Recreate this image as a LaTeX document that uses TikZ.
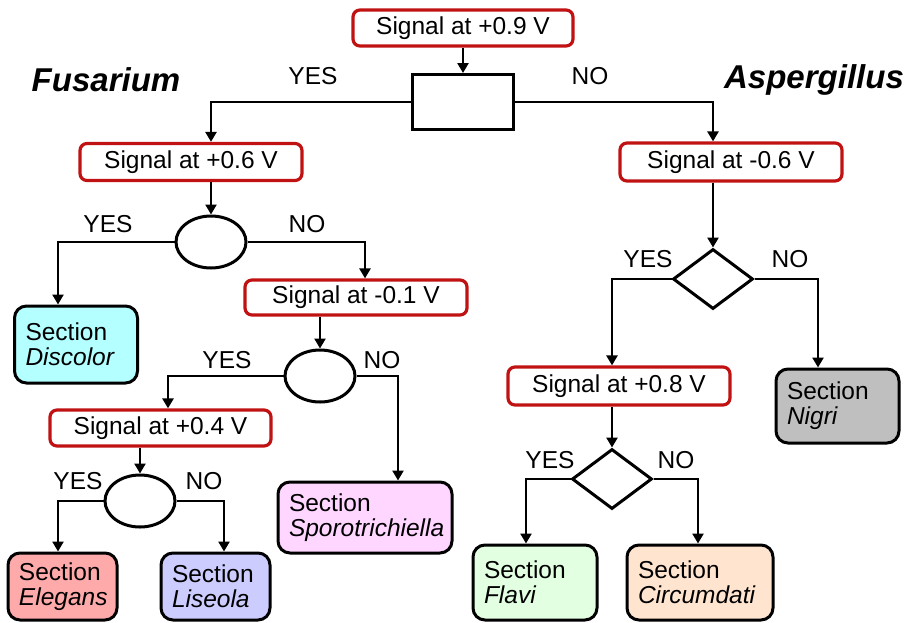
\documentclass[tikz,border=0pt]{standalone}
\usepackage{fontspec}
\setmainfont{Liberation Sans}
\usetikzlibrary{arrows.meta,shapes.geometric}
\definecolor{boxred}{RGB}{192,18,18}
\definecolor{cDis}{RGB}{180,255,255}
\definecolor{cEle}{RGB}{255,170,170}
\definecolor{cLis}{RGB}{204,204,255}
\definecolor{cSpo}{RGB}{255,214,255}
\definecolor{cNig}{RGB}{191,191,191}
\definecolor{cFla}{RGB}{226,255,226}
\definecolor{cCir}{RGB}{255,229,208}
\tikzset{
  txt/.style={font=\fontsize{24.5}{25}\selectfont},
  redbox/.style={txt, draw=boxred, line width=3.2pt, rounded corners=7pt, fill=white, inner sep=0pt},
  secbox/.style={txt, draw=black, line width=3pt, rounded corners=12pt, align=left, inner xsep=11pt, inner ysep=0pt},
  decision/.style={draw=black, line width=3pt, inner sep=0pt},
  oval/.style={decision, ellipse, minimum width=70pt, minimum height=52pt},
  rhomb/.style={decision, diamond, minimum width=80pt, minimum height=60pt},
  conn/.style={line width=2.8pt, -{Triangle[width=11pt,length=10pt]}},
  lbl/.style={txt, inner sep=0pt},
  genus/.style={font=\fontsize{33}{35}\selectfont\bfseries\itshape, inner sep=0pt}
}
\begin{document}
\begin{tikzpicture}[x=1pt,y=-1pt]
\useasboundingbox (0,0) rectangle (908,622);

% top
\node[redbox, minimum width=220pt, minimum height=36pt] (t0) at (463,28) {Signal at +0.9 V};
\node[decision, rectangle, minimum width=101pt, minimum height=55pt] (r0) at (463,102) {};
\node[genus] (fus) at (106,80) {Fusarium};
\node[genus] (asp) at (814,80) {Aspergillus};
\node[lbl] (ly0) at (313,76) {YES};
\node[lbl] (ln0) at (590,76) {NO};

% Fusarium branch
\node[redbox, minimum width=222pt, minimum height=37pt] (p06) at (191,162) {Signal at +0.6 V};
\node[oval] (e1) at (211,242) {};
\node[lbl] (ly1) at (108,224) {YES};
\node[lbl] (ln1) at (307,224) {NO};
\node[secbox, fill=cDis, text width=101pt, minimum height=77pt] (dis) at (76,344.5) {Section\\\textit{Discolor}};
\node[redbox, minimum width=222pt, minimum height=35pt] (m01) at (356,297.5) {Signal at -0.1 V};
\node[oval] (e2) at (320,376) {};
\node[lbl] (ly2) at (227,360) {YES};
\node[lbl] (ln2) at (382,360) {NO};
\node[redbox, minimum width=221pt, minimum height=36pt] (p04) at (160.5,428) {Signal at +0.4 V};
\node[secbox, fill=cSpo, text width=152pt, minimum height=71pt] (spo) at (365,517.5) {Section\\\textit{Sporotrichiella}};
\node[oval] (e3) at (140,501) {};
\node[lbl] (ly3) at (78,481) {YES};
\node[lbl] (ln3) at (204,481) {NO};
\node[secbox, fill=cEle, text width=87pt, minimum height=67pt] (ele) at (62.5,586.5) {Section\\\textit{Elegans}};
\node[secbox, fill=cLis, text width=87pt, minimum height=67pt] (lis) at (215.5,586.5) {Section\\\textit{Liseola}};

% Aspergillus branch
\node[redbox, minimum width=222pt, minimum height=38pt] (m06) at (731,162) {Signal at -0.6 V};
\node[rhomb] (d1) at (713,279) {};
\node[lbl] (ly4) at (648,259) {YES};
\node[lbl] (ln4) at (790,259) {NO};
\node[redbox, minimum width=222pt, minimum height=38pt] (p08) at (619,386) {Signal at +0.8 V};
\node[secbox, fill=cNig, text width=101pt, minimum height=74pt] (nig) at (837.5,406) {Section\\\textit{Nigri}};
\node[rhomb] (d2) at (612,479) {};
\node[lbl] (ly5) at (550,460) {YES};
\node[lbl] (ln5) at (676,460) {NO};
\node[secbox, fill=cFla, text width=102pt, minimum height=75pt] (fla) at (535,582.5) {Section\\\textit{Flavi}};
\node[secbox, fill=cCir, text width=124pt, minimum height=75pt] (cir) at (700,582.5) {Section\\\textit{Circumdati}};

% connectors
\draw[conn] (t0.south) -- (r0.north);
\draw[conn] (r0.west) -| ([xshift=20pt]p06.north);
\draw[conn] (r0.east) -| ([xshift=-18pt]m06.north);
\draw[conn] ([xshift=20pt]p06.south) -- (e1.north);
\draw[conn] (e1.west) -| ([xshift=-18pt]dis.north);
\draw[conn] (e1.east) -| ([xshift=9pt]m01.north);
\draw[conn] ([xshift=-36pt]m01.south) -- (e2.north);
\draw[conn] (e2.west) -| ([xshift=7.5pt]p04.north);
\draw[conn] (e2.east) -| ([xshift=33pt]spo.north);
\draw[conn] ([xshift=-20.5pt]p04.south) -- (e3.north);
\draw[conn] (e3.west) -| ([xshift=-4.5pt]ele.north);
\draw[conn] (e3.east) -| ([xshift=8.5pt]lis.north);
\draw[conn] ([xshift=-18pt]m06.south) -- (d1.north);
\draw[conn] (d1.west) -| ([xshift=-7pt]p08.north);
\draw[conn] (d1.east) -| ([xshift=-19.5pt]nig.north);
\draw[conn] ([xshift=-7pt]p08.south) -- (d2.north);
\draw[conn] (d2.west) -| ([xshift=-9pt]fla.north);
\draw[conn] (d2.east) -| ([xshift=-2pt]cir.north);
\end{tikzpicture}
\end{document}
